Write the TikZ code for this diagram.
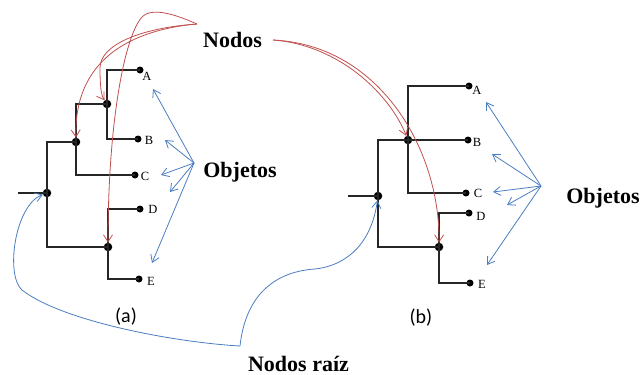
\documentclass[tikz,border=0pt]{standalone}
\usepackage{fontspec}
\setmainfont{Liberation Serif}
\newfontfamily\calib{Carlito}
\usetikzlibrary{arrows.meta}
\definecolor{nred}{RGB}{192,80,77}
\definecolor{nblue}{RGB}{74,126,193}
\begin{document}
\begin{tikzpicture}[x=1pt,y=-1pt,
  edge/.style={draw=black!85, line width=1.1pt},
  leafdot/.style={circle, fill=black, inner sep=0pt, minimum size=7pt},
  innerdot/.style={circle, fill=black, inner sep=0pt, minimum size=8.5pt},
  leaflbl/.style={font=\fontsize{12.5}{14}\selectfont, inner sep=0pt},
  biglbl/.style={font=\bfseries\fontsize{22}{24}\selectfont, inner sep=0pt, anchor=base},
  sublbl/.style={font=\calib\fontsize{20}{22}\selectfont, inner sep=0pt},
  redarr/.style={draw=nred, line width=0.8pt, -{Straight Barb[length=7pt,width=9pt]}},
  bluearr/.style={draw=nblue, line width=0.8pt, -{Straight Barb[length=7pt,width=9pt]}},
]
\useasboundingbox (0,0) rectangle (643,375);

% ---------- tree (a) ----------
\coordinate (sa) at (18,193);
\node[innerdot] (ra) at (47,193) {};
\node[innerdot] (n1a) at (76,142) {};
\node[innerdot] (n2a) at (107,104) {};
\node[innerdot] (n3a) at (108,247) {};
\node[leafdot] (Aa) at (140,70) {};
\node[leafdot] (Ba) at (138,139) {};
\node[leafdot] (Ca) at (135,175) {};
\node[leafdot] (Da) at (140,209) {};
\node[leafdot] (Ea) at (139,279) {};
\draw[edge] (sa) -- (ra.center);
\draw[edge] (n1a.center) -| (ra.center) |- (n3a.center);
\draw[edge] (n2a.center) -| (n1a.center) |- (Ca.center);
\draw[edge] (Aa.center) -| (n2a.center) |- (Ba.center);
\draw[edge] (Da.center) -| (n3a.center) |- (Ea.center);
\node[leaflbl] (lAa) at (147,76) {A};
\node[leaflbl] (lBa) at (149,140) {B};
\node[leaflbl] (lCa) at (145,176) {C};
\node[leaflbl] (lDa) at (153,209) {D};
\node[leaflbl] (lEa) at (151,281) {E};
\node[sublbl] (capa) at (126,317) {(a)};

% ---------- tree (b) ----------
\coordinate (sb) at (348,196);
\node[innerdot] (rb) at (378,196) {};
\node[innerdot] (n1b) at (408,140) {};
\node[innerdot] (n3b) at (439,247) {};
\node[leafdot] (Ab) at (469,86) {};
\node[leafdot] (Bb) at (468,140) {};
\node[leafdot] (Cb) at (466,193) {};
\node[leafdot] (Db) at (469,213) {};
\node[leafdot] (Eb) at (470,283) {};
\draw[edge] (sb) -- (rb.center);
\draw[edge] (n1b.center) -| (rb.center) |- (n3b.center);
\draw[edge] (n1b.center) -- (Bb.center);
\draw[edge] (Ab.center) -| (n1b.center) |- (Cb.center);
\draw[edge] (Db.center) -| (n3b.center) |- (Eb.center);
\node[leaflbl] (lAb) at (477,90) {A};
\node[leaflbl] (lBb) at (477,142) {B};
\node[leaflbl] (lCb) at (478,193) {C};
\node[leaflbl] (lDb) at (481,216) {D};
\node[leaflbl] (lEb) at (482,284) {E};
\node[sublbl] (capb) at (421,318) {(b)};

% ---------- labels ----------
\node[biglbl] (nodos) at (232.5,47) {Nodos};
\node[biglbl] (obja) at (240,177) {Objetos};
\node[biglbl] (objb) at (603,203) {Objetos};
\node[biglbl] (raiz) at (298.5,371) {Nodos raíz};

% ---------- red arrows ----------
\coordinate (na) at (197,24);
\coordinate (nb) at (273,40);
\draw[redarr] (na) .. controls (170,12) and (155,10) .. (146,14)
  .. controls (128,22) and (108,110) .. (n3a);
\draw[redarr] (na) .. controls (140,28) and (100,45) .. (100,68)
  .. controls (100,85) and (101,95) .. (n2a);
\draw[redarr] (na) .. controls (130,30) and (74,60) .. (n1a);
\draw[redarr] (nb) .. controls (340,45) and (390,95) .. (n1b);
\draw[redarr] (nb) .. controls (380,45) and (440,150) .. (n3b);

% ---------- blue arrows: roots ----------
\coordinate (nr) at (240,346);
\draw[bluearr] (nr) .. controls (170,342) and (60,320) .. (22,290)
  .. controls (5,275) and (15,205) .. (ra);
\draw[bluearr] (nr) .. controls (245,300) and (270,272) .. (315,269)
  .. controls (350,265) and (372,240) .. (rb);

% ---------- blue arrows: objects ----------
\coordinate (oa) at (194,163);
\coordinate (ta1) at (153,89);
\coordinate (ta2) at (165,140);
\coordinate (ta3) at (161,175);
\coordinate (ta4) at (170,192);
\coordinate (ta5) at (152,263);
\foreach \t in {ta1,ta2,ta3,ta4,ta5} \draw[bluearr] (oa) -- (\t);
\coordinate (ob) at (541,186);
\coordinate (tb1) at (486,102);
\coordinate (tb2) at (492,154);
\coordinate (tb3) at (493,192);
\coordinate (tb4) at (507,205);
\coordinate (tb5) at (487,265);
\foreach \t in {tb1,tb2,tb3,tb4,tb5} \draw[bluearr] (ob) -- (\t);
\end{tikzpicture}
\end{document}
